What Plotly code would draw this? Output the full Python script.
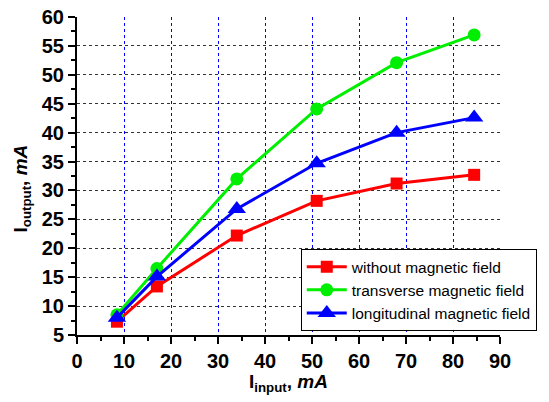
import plotly.graph_objects as go

x_input = [8.5, 17, 34, 51, 68, 84.5]
without_field = [7.3, 13.4, 22.2, 28.2, 31.2, 32.7]
transverse_field = [8.5, 16.5, 32.0, 44.1, 52.1, 56.9]
longitudinal_field = [8.0, 15.1, 26.8, 34.7, 40.0, 42.6]

series = [
    ("without magnetic field", without_field, "#ff0000", "square", 12),
    ("transverse magnetic field", transverse_field, "#00ee00", "circle", 13),
    ("longitudinal magnetic field", longitudinal_field, "#0000ff", "triangle-up", 16),
]

fig = go.Figure()
for name, ys, col, sym, sz in series:
    fig.add_trace(go.Scatter(
        x=x_input, y=ys, name=name, mode="lines+markers",
        line=dict(color=col, width=3),
        marker=dict(symbol=sym, size=sz, color=col),
    ))

font_family = "Liberation Sans, Arial, sans-serif"
tickfont = dict(size=20, family=font_family, weight="bold", color="black")
titlefont = dict(size=19, family=font_family, weight="bold", color="black")

fig.update_layout(
    width=549, height=402,
    margin=dict(l=77, r=47, t=17, b=67),
    plot_bgcolor="white", paper_bgcolor="white",
    font=dict(family=font_family, color="black"),
    showlegend=True,
    legend=dict(
        x=0.529, y=0.27, xanchor="left", yanchor="top",
        bordercolor="black", borderwidth=1, bgcolor="white",
        font=dict(size=15.5, family=font_family),
        tracegroupgap=0, itemwidth=40,
    ),
    xaxis=dict(
        range=[0, 90], dtick=10, tick0=0, automargin=False,
        showline=True, linecolor="black", linewidth=2,
        ticks="outside", ticklen=7, tickwidth=2, tickcolor="black",
        tickfont=tickfont,
        showgrid=True, gridcolor="#0000ff", griddash="dot", gridwidth=1,
        minor=dict(dtick=5, ticks="outside", ticklen=4, tickwidth=2, tickcolor="black", showgrid=False),
        zeroline=False,
    ),
    yaxis=dict(
        range=[5, 60], dtick=5, tick0=0, automargin=False,
        showline=True, linecolor="black", linewidth=2,
        ticks="outside", ticklen=7, tickwidth=2, tickcolor="black",
        tickfont=tickfont,
        showgrid=True, gridcolor="#333333", griddash="dot", gridwidth=1,
        minor=dict(dtick=2.5, ticks="outside", ticklen=4, tickwidth=2, tickcolor="black", showgrid=False),
        zeroline=False,
    ),
    annotations=[
        dict(text="I<sub>input</sub>, <i>mA</i>", xref="paper", yref="paper",
             x=0.499, y=-0.151, xanchor="center", yanchor="middle",
             showarrow=False, font=titlefont),
        dict(text="I<sub>output</sub>, <i>mA</i>", xref="paper", yref="paper",
             x=-0.129, y=0.462, xanchor="center", yanchor="middle", textangle=-90,
             showarrow=False, font=titlefont),
    ],
)

# remove the browser's default 8px body margin so the figure fills the window
fig.write_html("out.html", config={"displayModeBar": False},
               post_script="document.body.style.margin='0';")
